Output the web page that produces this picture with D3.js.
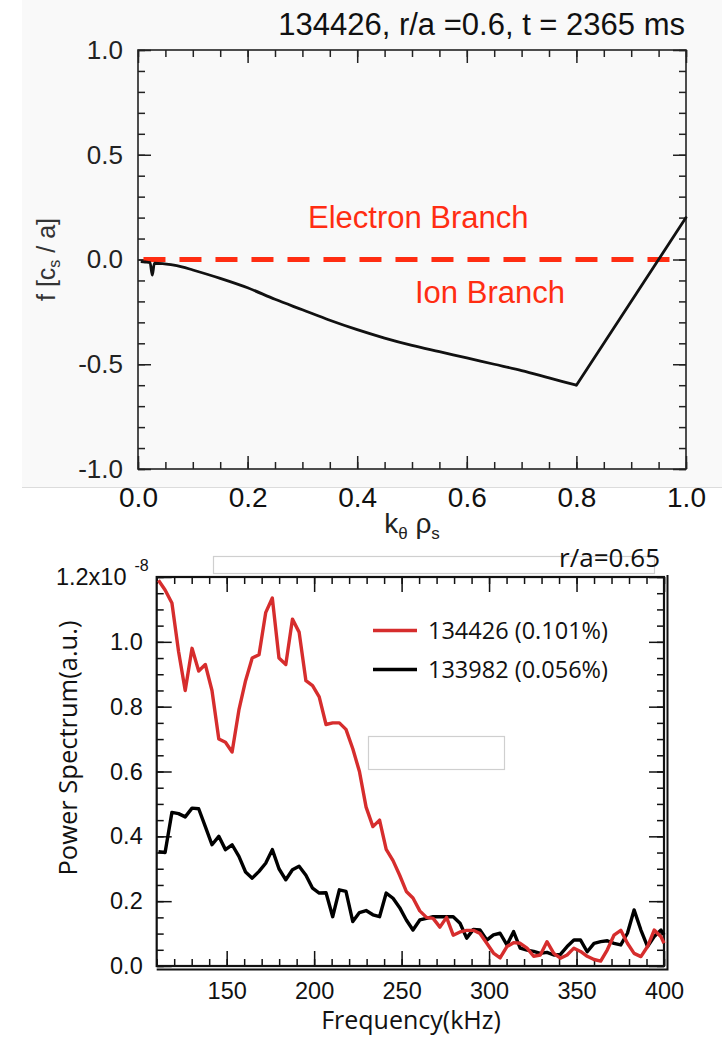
<!DOCTYPE html>
<html>
<head>
<meta charset="utf-8">
<script src="https://cdn.jsdelivr.net/npm/d3@7/dist/d3.min.js"></script>
<style>
  html, body { margin: 0; padding: 0; background: #fff; }
  svg { display: block; }
</style>
</head>
<body>
<svg id="chart" width="722" height="1037"></svg>
<script>
// ---- Upper panel: real frequency vs k_theta rho_s ----
const kTheta = [0.005, 0.013, 0.022, 0.026, 0.030, 0.045, 0.06, 0.08, 0.10, 0.15, 0.20, 0.25, 0.30, 0.35, 0.40, 0.45, 0.50, 0.55, 0.60, 0.65, 0.70, 0.75, 0.80, 1.00];
const freqNorm = [-0.010, -0.012, -0.015, -0.075, -0.018, -0.020, -0.025, -0.035, -0.050, -0.090, -0.135, -0.190, -0.240, -0.290, -0.335, -0.375, -0.410, -0.440, -0.470, -0.500, -0.530, -0.565, -0.600, 0.200];
const branchLine = [0.01, 0.97];
const kTicks = [0.0, 0.2, 0.4, 0.6, 0.8, 1.0];
const fTicks = [-1.0, -0.5, 0.0, 0.5, 1.0];
const topTitle = "134426, r/a =0.6, t = 2365 ms";

// ---- Lower panel: power spectra ----
const freqKHz = [111.0, 114.8, 118.7, 122.5, 126.3, 130.2, 134.0, 137.8, 141.6, 145.5,
  149.3, 153.1, 157.0, 160.8, 164.6, 168.5, 172.3, 176.1, 179.9, 183.8,
  187.6, 191.4, 195.3, 199.1, 202.9, 206.8, 210.6, 214.4, 218.2, 222.1,
  225.9, 229.7, 233.6, 237.4, 241.2, 245.1, 248.9, 252.7, 256.5, 260.4,
  264.2, 268.0, 271.9, 275.7, 279.5, 283.4, 287.2, 291.0, 294.8, 298.7,
  302.5, 306.3, 310.2, 314.0, 317.8, 321.7, 325.5, 329.3, 333.1, 337.0,
  340.8, 344.6, 348.5, 352.3, 356.1, 360.0, 363.8, 367.6, 371.4, 375.3,
  379.1, 382.9, 386.8, 390.6, 394.4, 398.3, 400.0];
const shot134426 = [1.19, 1.16, 1.12, 0.97, 0.85, 0.98, 0.91, 0.93, 0.85, 0.70,
  0.69, 0.66, 0.79, 0.88, 0.95, 0.96, 1.09, 1.135, 0.95, 0.93,
  1.07, 1.03, 0.88, 0.865, 0.83, 0.745, 0.75, 0.75, 0.73, 0.67,
  0.60, 0.49, 0.43, 0.45, 0.36, 0.325, 0.28, 0.23, 0.21, 0.17,
  0.15, 0.147, 0.12, 0.15, 0.095, 0.105, 0.11, 0.11, 0.10, 0.07,
  0.04, 0.025, 0.06, 0.072, 0.07, 0.055, 0.03, 0.034, 0.075, 0.039,
  0.024, 0.034, 0.055, 0.045, 0.03, 0.02, 0.015, 0.05, 0.095, 0.11,
  0.07, 0.039, 0.029, 0.06, 0.111, 0.09, 0.07];
const shot133982 = [0.353, 0.35, 0.474, 0.47, 0.46, 0.487, 0.485, 0.43, 0.374, 0.40,
  0.359, 0.374, 0.338, 0.29, 0.271, 0.292, 0.317, 0.359, 0.30, 0.266,
  0.297, 0.308, 0.28, 0.24, 0.225, 0.226, 0.152, 0.235, 0.23, 0.137,
  0.165, 0.171, 0.158, 0.152, 0.225, 0.209, 0.18, 0.142, 0.111, 0.142,
  0.147, 0.152, 0.152, 0.152, 0.152, 0.132, 0.086, 0.113, 0.111, 0.08,
  0.096, 0.101, 0.065, 0.106, 0.055, 0.049, 0.045, 0.039, 0.042, 0.034,
  0.036, 0.06, 0.08, 0.08, 0.044, 0.07, 0.075, 0.078, 0.07, 0.065,
  0.101, 0.173, 0.111, 0.06, 0.091, 0.111, 0.096];
const seriesNames = ["134426 (0.101%)", "133982 (0.056%)"];
const seriesColors = ["#d62d2d", "#000000"];
const freqTicks = [150, 200, 250, 300, 350, 400];
const powerTicks = [0.0, 0.2, 0.4, 0.6, 0.8, 1.0, 1.2];

const svg = d3.select("#chart");
// plain hyphen for negative numbers
const fmt1 = d => d3.format(".1f")(d).replace("\u2212", "-");

// ================= Upper panel =================
const topFont = "'Liberation Sans', Arial, Helvetica, sans-serif";
const xk = d3.scaleLinear().domain([0, 1]).range([138, 686]);
const yf = d3.scaleLinear().domain([-1, 1]).range([469, 50]);

// light scanned-paper backdrop of the upper figure
svg.append("rect").attr("x", 22).attr("y", 0).attr("width", 700).attr("height", 487)
  .attr("fill", "#f9f9f9");
svg.append("line").attr("x1", 22).attr("x2", 722).attr("y1", 487.5).attr("y2", 487.5)
  .attr("stroke", "#dcdcdc").attr("stroke-width", 1);

const topG = svg.append("g").attr("font-family", topFont);

function styleAxis(g, color) {
  g.select(".domain").remove();
  g.selectAll(".tick line").attr("stroke", color).attr("stroke-width", 1.5);
}

// minor ticks (x every 0.05, y every 0.1), all four sides, pointing inward
const kMinor = d3.range(0, 1.0001, 0.05);
const fMinor = d3.range(-1, 1.0001, 0.1);
topG.append("g").attr("transform", `translate(0,${yf(-1)})`)
  .call(d3.axisBottom(xk).tickValues(kMinor).tickSize(-7).tickFormat(""))
  .call(g => styleAxis(g, "#222"));
topG.append("g").attr("transform", `translate(0,${yf(1)})`)
  .call(d3.axisTop(xk).tickValues(kMinor).tickSize(-7).tickFormat(""))
  .call(g => styleAxis(g, "#222"));
topG.append("g").attr("transform", `translate(${xk(0)},0)`)
  .call(d3.axisLeft(yf).tickValues(fMinor).tickSize(-7).tickFormat(""))
  .call(g => styleAxis(g, "#222"));
topG.append("g").attr("transform", `translate(${xk(1)},0)`)
  .call(d3.axisRight(yf).tickValues(fMinor).tickSize(-7).tickFormat(""))
  .call(g => styleAxis(g, "#222"));

// major ticks with labels
topG.append("g").attr("transform", `translate(0,${yf(-1)})`)
  .call(d3.axisBottom(xk).tickValues(kTicks).tickSizeInner(-13).tickSizeOuter(0).tickPadding(18).tickFormat(fmt1))
  .call(g => styleAxis(g, "#222"))
  .call(g => g.selectAll("text").attr("font-size", 28).attr("fill", "#111"));
topG.append("g").attr("transform", `translate(0,${yf(1)})`)
  .call(d3.axisTop(xk).tickValues(kTicks).tickSizeInner(-13).tickSizeOuter(0).tickFormat(""))
  .call(g => styleAxis(g, "#222"));
topG.append("g").attr("transform", `translate(${xk(0)},0)`)
  .call(d3.axisLeft(yf).tickValues(fTicks).tickSizeInner(-13).tickSizeOuter(0).tickPadding(15).tickFormat(fmt1))
  .call(g => styleAxis(g, "#222"))
  .call(g => g.selectAll("text").attr("font-size", 26).attr("fill", "#222"));
topG.append("g").attr("transform", `translate(${xk(1)},0)`)
  .call(d3.axisRight(yf).tickValues(fTicks).tickSizeInner(-13).tickSizeOuter(0).tickFormat(""))
  .call(g => styleAxis(g, "#222"));

// frame
topG.append("rect").attr("x", xk(0)).attr("y", yf(1))
  .attr("width", xk(1) - xk(0)).attr("height", yf(-1) - yf(1))
  .attr("fill", "none").attr("stroke", "#222").attr("stroke-width", 1.6);

// zero-frequency divider between branches
topG.append("line")
  .attr("x1", xk(branchLine[0])).attr("x2", xk(branchLine[1]))
  .attr("y1", yf(0)).attr("y2", yf(0))
  .attr("stroke", "#ff2d12").attr("stroke-width", 5).attr("stroke-dasharray", "22,14");

// dispersion curve: smooth ion-branch part up to the kink, then straight to the end
const kinkIdx = kTheta.indexOf(0.80);
const smoothLine = d3.line().x(d => xk(d[0])).y(d => yf(d[1])).curve(d3.curveMonotoneX);
const straightLine = d3.line().x(d => xk(d[0])).y(d => yf(d[1]));
const pts = kTheta.map((k, i) => [k, freqNorm[i]]);
topG.append("path").datum(pts.slice(0, kinkIdx + 1))
  .attr("d", smoothLine).attr("fill", "none")
  .attr("stroke", "#111").attr("stroke-width", 2.8).attr("stroke-linejoin", "miter");
topG.append("path").datum(pts.slice(kinkIdx))
  .attr("d", straightLine).attr("fill", "none")
  .attr("stroke", "#111").attr("stroke-width", 2.8).attr("stroke-linecap", "round");

topG.append("text").attr("x", 308).attr("y", 228).attr("font-size", 31)
  .attr("fill", "#ff2d12").text("Electron Branch");
topG.append("text").attr("x", 415).attr("y", 303).attr("font-size", 31)
  .attr("fill", "#ff2d12").text("Ion Branch");

topG.append("text").attr("x", 685).attr("y", 35).attr("text-anchor", "end")
  .attr("font-size", 31).attr("fill", "#111").text(topTitle);

// axis titles
const yLab = topG.append("text")
  .attr("transform", `translate(55,${yf(0)}) rotate(-90)`)
  .attr("text-anchor", "middle").attr("font-size", 25).attr("fill", "#333");
yLab.append("tspan").text("f [c");
yLab.append("tspan").attr("font-size", 16).attr("dy", 5).text("s");
yLab.append("tspan").attr("dy", -5).text(" / a]");

const xLab = topG.append("text")
  .attr("x", 412).attr("y", 533).attr("text-anchor", "middle")
  .attr("font-size", 28).attr("fill", "#222");
xLab.append("tspan").text("k");
xLab.append("tspan").attr("font-size", 17).attr("dy", 6).text("θ");
xLab.append("tspan").attr("dy", -6).text(" ρ");
xLab.append("tspan").attr("font-size", 17).attr("dy", 6).text("s");

// ================= Lower panel =================
const botFont = "'Open Sans', 'Noto Sans', sans-serif";
const xf = d3.scaleLinear().domain([110, 400]).range([156.7, 664]);
const yp = d3.scaleLinear().domain([0, 1.2]).range([966, 577]);
const botG = svg.append("g").attr("font-family", botFont);

// placeholder boxes
botG.append("rect").attr("x", 213.5).attr("y", 556.5).attr("width", 441).attr("height", 17)
  .attr("fill", "#fff").attr("stroke", "#cfcfcf").attr("stroke-width", 1.2);
botG.append("rect").attr("x", 368.5).attr("y", 736.5).attr("width", 136).attr("height", 33)
  .attr("fill", "#fff").attr("stroke", "#cfcfcf").attr("stroke-width", 1.2);

botG.append("text").attr("x", 660).attr("y", 567).attr("text-anchor", "end")
  .attr("font-size", 26).attr("fill", "#111").text("r/a=0.65");

const fMinorTicks = d3.range(110, 400.001, 10);
const pMinorTicks = d3.range(0, 1.2001, 0.05);
botG.append("g").attr("transform", `translate(0,${yp(0)})`)
  .call(d3.axisBottom(xf).tickValues(fMinorTicks).tickSize(-7).tickFormat(""))
  .call(g => styleAxis(g, "#111"));
botG.append("g").attr("transform", `translate(0,${yp(1.2)})`)
  .call(d3.axisTop(xf).tickValues(fMinorTicks).tickSize(-7).tickFormat(""))
  .call(g => styleAxis(g, "#111"));
botG.append("g").attr("transform", `translate(${xf(110)},0)`)
  .call(d3.axisLeft(yp).tickValues(pMinorTicks).tickSize(-7).tickFormat(""))
  .call(g => styleAxis(g, "#111"));
botG.append("g").attr("transform", `translate(${xf(400)},0)`)
  .call(d3.axisRight(yp).tickValues(pMinorTicks).tickSize(-7).tickFormat(""))
  .call(g => styleAxis(g, "#111"));

botG.append("g").attr("transform", `translate(0,${yp(0)})`)
  .call(d3.axisBottom(xf).tickValues(freqTicks).tickSizeInner(-15).tickSizeOuter(0).tickPadding(16).tickFormat(d3.format("d")))
  .call(g => styleAxis(g, "#111"))
  .call(g => g.selectAll("text").attr("font-size", 23.5).attr("fill", "#111"));
botG.append("g").attr("transform", `translate(0,${yp(1.2)})`)
  .call(d3.axisTop(xf).tickValues(freqTicks).tickSizeInner(-15).tickSizeOuter(0).tickFormat(""))
  .call(g => styleAxis(g, "#111"));
const yAxisG = botG.append("g").attr("transform", `translate(${xf(110)},0)`)
  .call(d3.axisLeft(yp).tickValues(powerTicks).tickSizeInner(-15).tickSizeOuter(0).tickPadding(14)
    .tickFormat(d => d === 1.2 ? "1.2x10" : fmt1(d)))
  .call(g => styleAxis(g, "#111"))
  .call(g => g.selectAll("text").attr("font-size", 23.5).attr("fill", "#111"));
// exponent on the top label
yAxisG.selectAll(".tick").filter(d => d === 1.2).select("text")
  .attr("dx", 6)
  .append("tspan").attr("font-size", 16).attr("dx", 8).attr("dy", -14).text("-8");
botG.append("g").attr("transform", `translate(${xf(400)},0)`)
  .call(d3.axisRight(yp).tickValues(powerTicks).tickSizeInner(-15).tickSizeOuter(0).tickFormat(""))
  .call(g => styleAxis(g, "#111"));

// frame (double-ruled on bottom and right)
botG.append("rect").attr("x", xf(110)).attr("y", yp(1.2))
  .attr("width", xf(400) - xf(110)).attr("height", yp(0) - yp(1.2))
  .attr("fill", "none").attr("stroke", "#111").attr("stroke-width", 2.2);
botG.append("path")
  .attr("d", `M${xf(110)},${yp(0) + 3.5}H${xf(400) + 3.5}V${yp(1.2) - 2}`)
  .attr("fill", "none").attr("stroke", "#111").attr("stroke-width", 2);

// spectra
const specLine = d3.line().x((d, i) => xf(freqKHz[i])).y(d => yp(d));
[shot133982, shot134426].forEach((vals, j) => {
  const idx = j === 0 ? 1 : 0;
  botG.append("path").datum(vals)
    .attr("d", specLine).attr("fill", "none")
    .attr("stroke", seriesColors[idx]).attr("stroke-width", 3.4)
    .attr("stroke-linejoin", "round");
});

// legend
const legY = [630.5, 669.5];
seriesNames.forEach((name, i) => {
  botG.append("line").attr("x1", 373).attr("x2", 417).attr("y1", legY[i]).attr("y2", legY[i])
    .attr("stroke", seriesColors[i]).attr("stroke-width", 3.6);
  botG.append("text").attr("x", 428).attr("y", legY[i]).attr("dy", "0.35em")
    .attr("font-size", 23.5).attr("fill", "#111").text(name);
});

// axis titles
botG.append("text").attr("x", 411).attr("y", 1029).attr("text-anchor", "middle")
  .attr("font-size", 25).attr("fill", "#111").text("Frequency(kHz)");
botG.append("text").attr("transform", `translate(77,748) rotate(-90)`)
  .attr("text-anchor", "middle").attr("font-size", 25.5).attr("fill", "#111")
  .text("Power Spectrum(a.u.)");
</script>
</body>
</html>
